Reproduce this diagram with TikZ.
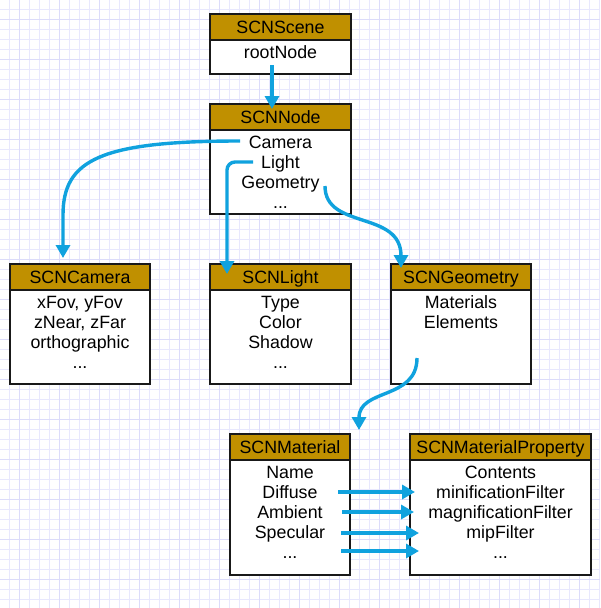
\documentclass[tikz,border=0pt]{standalone}
\usepackage{fontspec}
\setmainfont{Liberation Sans}
\usetikzlibrary{arrows.meta}
\definecolor{hdr}{RGB}{192,144,0}
\definecolor{arr}{RGB}{16,162,222}
\definecolor{gridminor}{RGB}{232,232,253}
\definecolor{gridmajor}{RGB}{220,220,250}
\definecolor{boxline}{RGB}{25,25,25}
\newcommand{\umlbox}[8]{%
  \node[hdrbox, minimum width=#4pt, minimum height=#5pt] (#1h) at (#2,#3) {#7};
  \node[bodybox] (#1) at (#2,#3+#5) {\parbox[c][#6pt][t]{#4pt}{\centering\rule{0pt}{18.5pt}#8}};
}
\tikzset{
  hdrbox/.style={draw=boxline, line width=2pt, fill=hdr, anchor=north west, inner sep=0pt,
    font=\fontsize{17.8}{20}\selectfont, text height=12.5pt, text depth=0pt},
  bodybox/.style={draw=boxline, line width=2pt, fill=white, anchor=north west, inner sep=0pt,
    minimum width=0pt, font=\fontsize{17.8}{20}\selectfont},
  conn/.style={draw=arr, line width=3.4pt, -{Triangle[length=13pt,width=14pt]}},
}
\begin{document}
\begin{tikzpicture}[x=1pt,y=-1pt]
\useasboundingbox (0,0) rectangle (600,608);
\fill[white] (0,0) rectangle (600,608);
\foreach \g in {9.5,19.5,...,600} {
  \draw[gridminor, line width=1pt] (\g,0) -- (\g,608);
}
\foreach \g in {9.5,19.5,...,608} {
  \draw[gridminor, line width=1pt] (0,\g) -- (600,\g);
}
\foreach \g in {19.5,59.5,...,600} {
  \draw[gridmajor, line width=1.2pt] (\g,0) -- (\g,608);
}
\foreach \g in {19.5,59.5,...,608} {
  \draw[gridmajor, line width=1.2pt] (0,\g) -- (600,\g);
}

\umlbox{Scene}{209}{13}{141}{26}{34}{SCNScene}{rootNode}
\umlbox{Node}{209}{103}{141}{26}{84}{SCNNode}{Camera\\Light\\Geometry\\...}
\umlbox{Camera}{9}{263}{140}{26}{94}{SCNCamera}{xFov, yFov\\zNear, zFar\\orthographic\\...}
\umlbox{Light}{209}{263}{141}{26}{94}{SCNLight}{Type\\Color\\Shadow\\...}
\umlbox{Geometry}{390}{263}{140}{26}{94}{SCNGeometry}{Materials\\Elements}
\umlbox{Material}{229}{433}{120}{26}{115}{SCNMaterial}{Name\\Diffuse\\Ambient\\Specular\\...}
\umlbox{Property}{409}{433}{181}{26}{115}{SCNMaterialProperty}{Contents\\minificationFilter\\magnificationFilter\\mipFilter\\...}

\coordinate (r0) at (272,65);
\coordinate (c0) at (240,141);
\coordinate (cbend) at (63,215);
\coordinate (l0) at (253,162);
\coordinate (g0) at (325,186);
\coordinate (m0) at (417,358);
\coordinate (d1) at (338,492);
\coordinate (d2) at (342,512);
\coordinate (d3) at (341,533);
\coordinate (d4) at (341,551);

\draw[conn, shorten >=-6pt] (r0) -- (r0 |- Nodeh.north);
\draw[conn, shorten >=5pt] (c0) .. controls +(-140,0) and +(0,-55) .. (cbend) -- (cbend |- Camerah.north);
\draw[conn, rounded corners=8pt, shorten >=-11pt] (l0) -| ([xshift=-53.5pt]Lighth.north);
\draw[conn, shorten >=-5pt] (g0) .. controls +(0,44) and +(0,-53) .. ([xshift=-60pt]Geometryh.north);
\draw[conn, shorten >=3pt] (m0) .. controls +(0,42) and +(0,-45) .. ([xshift=8pt]Materialh.north east);
\draw[conn, shorten >=-6pt] (d1) -- (d1 -| Property.west);
\draw[conn, shorten >=-5pt] (d2) -- (d2 -| Property.west);
\draw[conn, shorten >=-10pt] (d3) -- (d3 -| Property.west);
\draw[conn, shorten >=-10pt] (d4) -- (d4 -| Property.west);
\end{tikzpicture}
\end{document}
